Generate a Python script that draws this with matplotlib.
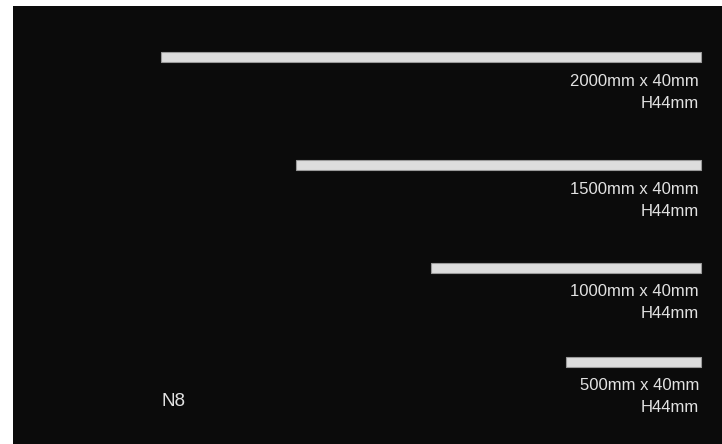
import matplotlib

matplotlib.use("Agg")
import matplotlib.pyplot as plt

# product sizes
lengths_mm = [2000, 1500, 1000, 500]
width_mm = 40
height_mm = 44
model = "N8"

BG = "#0b0b0b"
BAR = "#dddddd"
TXT = "#e2e2e2"

plt.rcParams["font.family"] = ["Liberation Sans", "DejaVu Sans"]

fig = plt.figure(figsize=(7.22, 4.44), dpi=100, facecolor="white")
ax = fig.add_axes([13 / 722, 0, 709 / 722, 438 / 444])
ax.set_facecolor(BG)

# x in mm (0.27 px per mm, longest bar spans 161..701 px), y in px from top
px_per_mm = 0.27
ax.set_xlim((13 - 161) / px_per_mm, (722 - 161) / px_per_mm)
ax.set_ylim(444, 6)

row_y = [57, 165, 268, 362]
for length, y in zip(lengths_mm, row_y):
    ax.barh(y, length, left=max(lengths_mm) - length, height=10,
            color=BAR, edgecolor="#9a9a9a", linewidth=0.8)
    tx = max(lengths_mm) - 2 / px_per_mm
    ax.text(tx, y + 24, f"{length}mm x {width_mm}mm", ha="right", va="center",
            color=TXT, fontsize=12)
    ax.text(tx, y + 46, f"H{height_mm}mm", ha="right", va="center",
            color=TXT, fontsize=12)

ax.text(0.5, 401, model, ha="left", va="center", color=TXT, fontsize=13.5)

ax.set_xticks([])
ax.set_yticks([])
for s in ax.spines.values():
    s.set_visible(False)

fig.savefig("out.png", dpi=100, facecolor="white")
